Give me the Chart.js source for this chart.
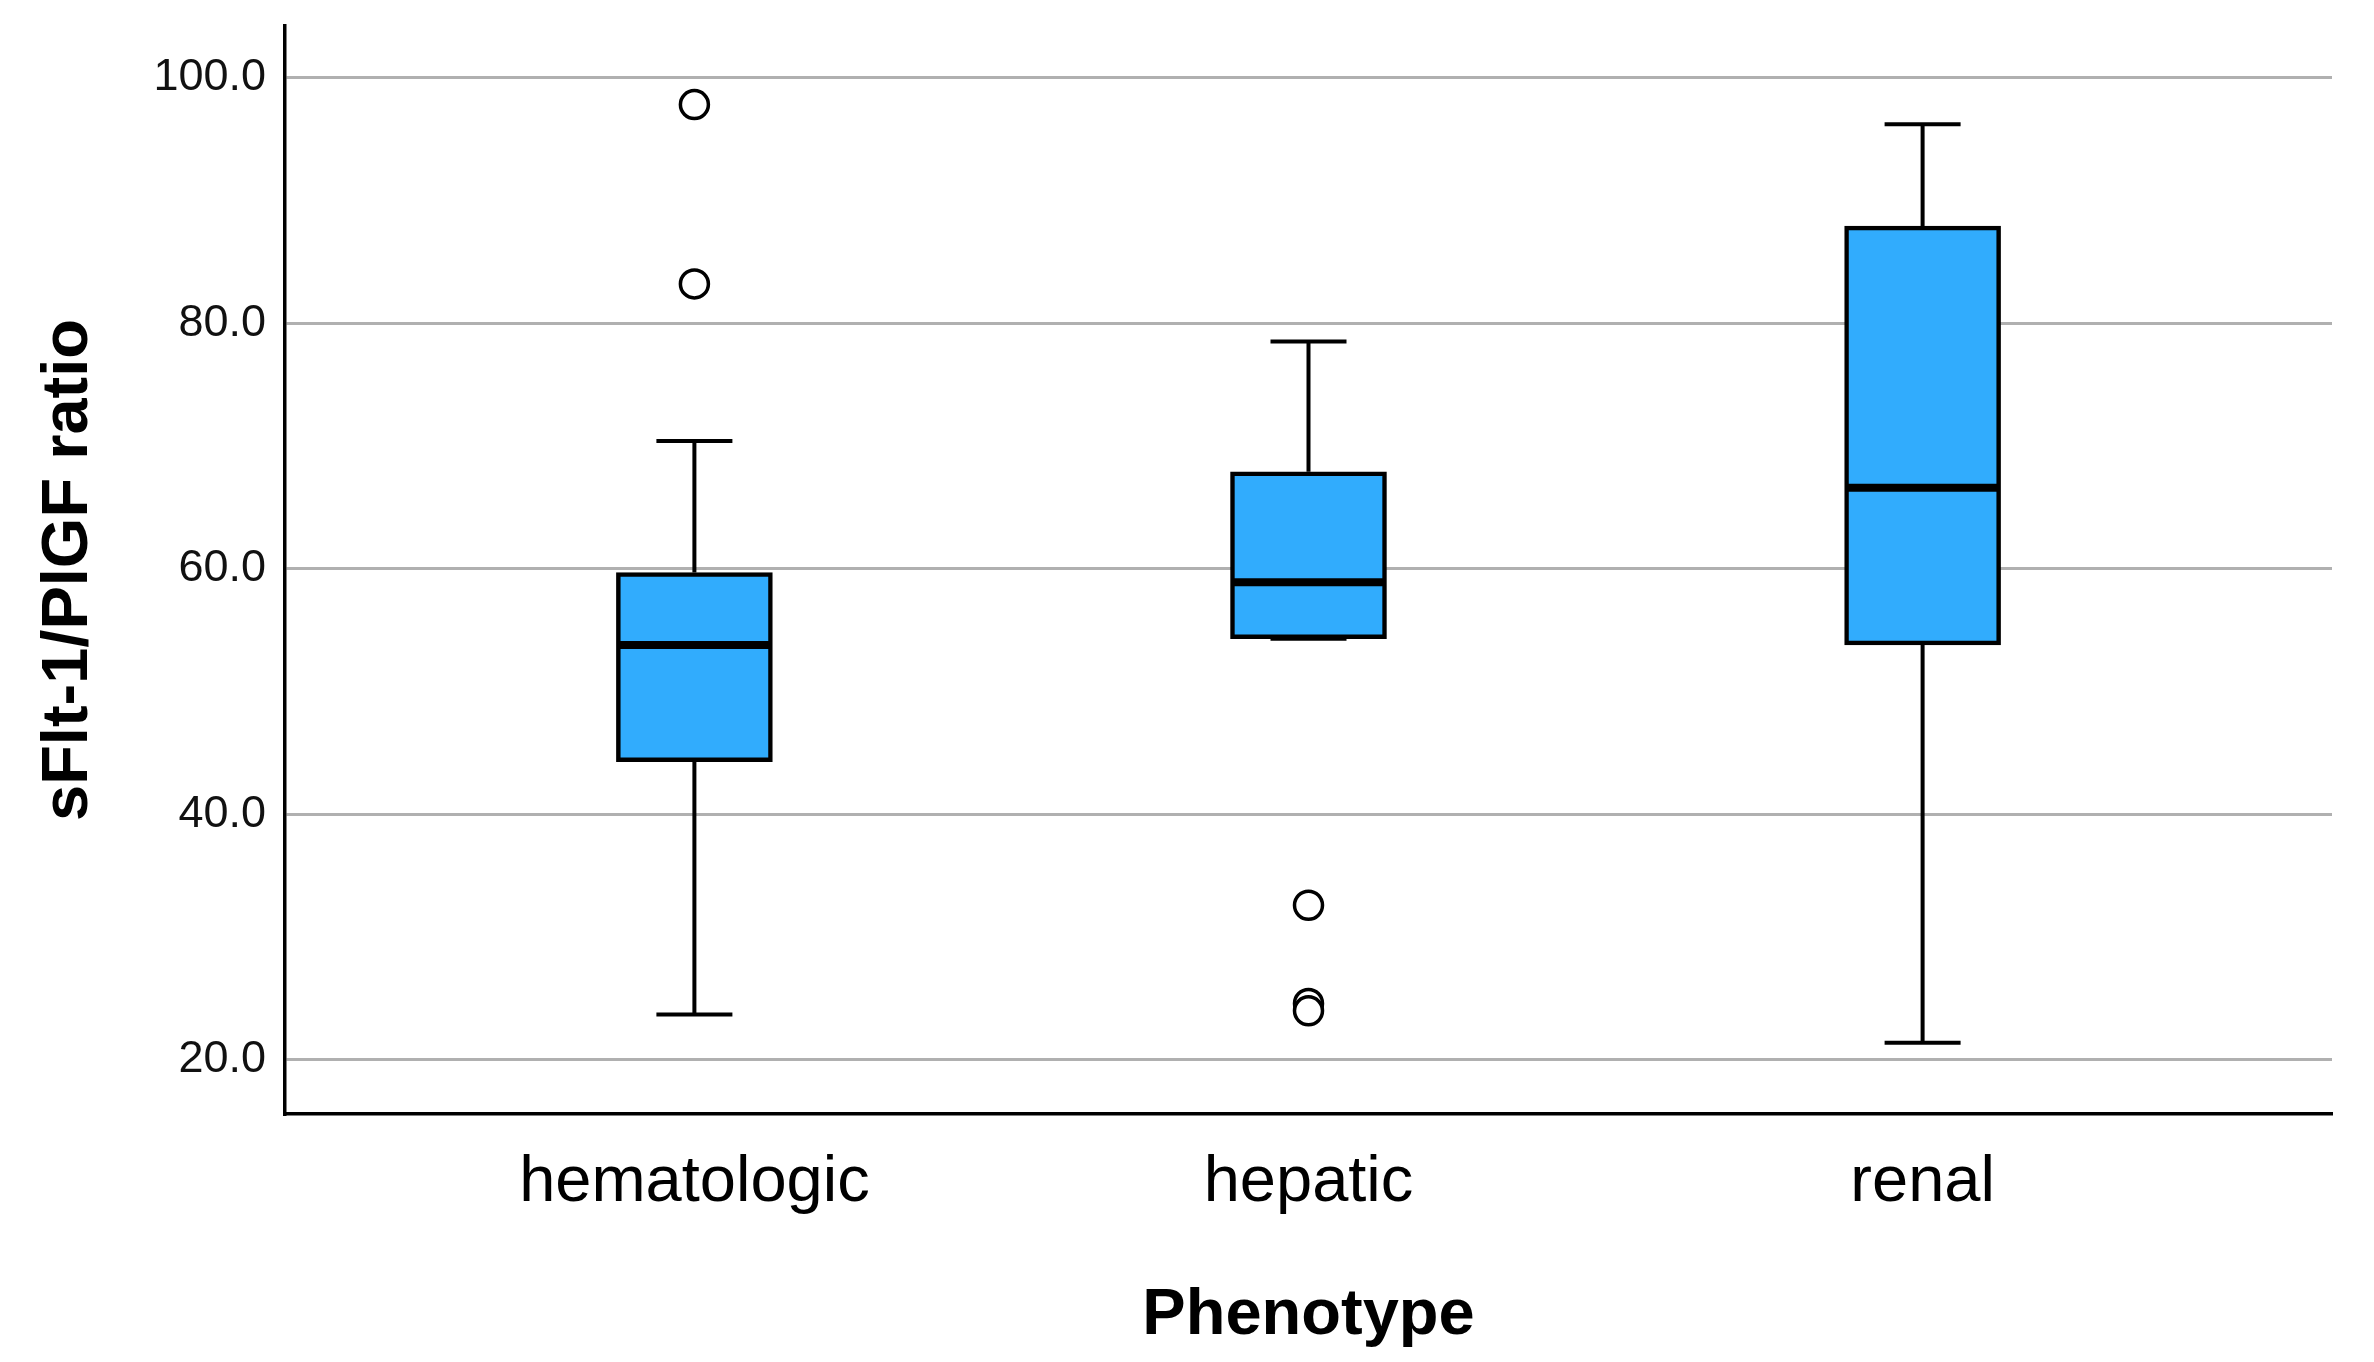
<!DOCTYPE html>
<html>
<head>
<meta charset="utf-8">
<title>sFlt-1/PlGF ratio by phenotype</title>
<script src="https://cdn.jsdelivr.net/npm/chart.js@4.4.0/dist/chart.umd.min.js"></script>
<style>
  html, body { margin: 0; padding: 0; background: #fff; }
  #wrap { width: 2374px; height: 1362px; position: relative; }
</style>
</head>
<body>
<div id="wrap"><canvas id="boxChart"></canvas></div>
<script>
'use strict';

/* --- Data --- */
const categories = ['hematologic', 'hepatic', 'renal'];
const whiskerLow = [23.7, 54.3, 21.4];
const q1 = [44.3, 54.3, 53.8];
const median = [53.8, 58.9, 66.6];
const q3 = [59.7, 67.9, 87.9];
const whiskerHigh = [70.4, 78.5, 96.2];
const outliers = [[97.8, 83.2], [32.6, 24.6, 24.0], []];
const yTicks = [20, 40, 60, 80, 100];

const FONT = "'Liberation Sans', Arial, sans-serif";
const BOX_BLUE = '#31acfd';

/* --- Build datasets from the arrays --- */
const xPos = categories.map((c, i) => i + 1);

const boxData = xPos.map((x, i) => ({ x: x, y: [q1[i], q3[i]] }));
const medianData = xPos.map((x, i) => ({ x: x, y: median[i] }));
const capData = [];
const whiskerData = [];
xPos.forEach((x, i) => {
  capData.push({ x: x, y: whiskerLow[i] }, { x: x, y: whiskerHigh[i] });
  whiskerData.push(
    { x: x, y: whiskerLow[i] }, { x: x, y: q1[i] }, { x: x, y: NaN },
    { x: x, y: q3[i] }, { x: x, y: whiskerHigh[i] }, { x: x, y: NaN }
  );
});
const outlierData = [];
outliers.forEach((vals, i) => vals.forEach(v => outlierData.push({ x: xPos[i], y: v })));

// drop the automatic label padding so the plot area follows layout.padding
function noAutoPadding(s) {
  s.paddingLeft = 0; s.paddingRight = 0; s.paddingTop = 0; s.paddingBottom = 0;
}

const ctx = document.getElementById('boxChart');
new Chart(ctx, {
  type: 'bar',
  data: {
    datasets: [
      {
        type: 'line', label: 'outliers', data: outlierData, showLine: false,
        pointStyle: 'circle', pointRadius: 14, pointBorderWidth: 3.5,
        pointBackgroundColor: '#fff', pointBorderColor: '#000', order: 0
      },
      {
        type: 'line', label: 'median', data: medianData, showLine: false,
        pointStyle: 'line', pointRadius: 76, pointBorderWidth: 8,
        pointBorderColor: '#000', order: 1
      },
      {
        label: 'box', data: boxData, backgroundColor: BOX_BLUE,
        borderColor: '#000', borderWidth: 4.5, borderSkipped: false,
        barThickness: 156, order: 2
      },
      {
        type: 'line', label: 'caps', data: capData, showLine: false,
        pointStyle: 'line', pointRadius: 38, pointBorderWidth: 4,
        pointBorderColor: '#000', order: 3
      },
      {
        type: 'line', label: 'whiskers', data: whiskerData, spanGaps: false,
        borderColor: '#000', borderWidth: 4, pointRadius: 0, order: 4
      }
    ]
  },
  options: {
    responsive: true, maintainAspectRatio: false, animation: false,
    events: [],
    layout: { autoPadding: false, padding: { top: 26, right: 42, bottom: 0, left: 0 } },
    plugins: { legend: { display: false }, tooltip: { enabled: false } },
    scales: {
      x: {
        type: 'linear', min: 1 / 3, max: 11 / 3, offset: false,
        afterBuildTicks: s => { s.ticks = xPos.map(v => ({ value: v })); },
        afterFit: s => { s.height = 248; noAutoPadding(s); },
        grid: { color: 'rgba(0,0,0,0)', drawTicks: false },
        border: { display: true, color: '#000', width: 3.5 },
        ticks: {
          padding: 30, color: '#000', maxRotation: 0,
          font: { family: FONT, size: 65 },
          callback: v => categories[v - 1]
        },
        title: {
          display: true, text: 'Phenotype', color: '#000',
          font: { family: FONT, size: 65, weight: 'bold' },
          padding: { top: 0, bottom: 7 }
        }
      },
      y: {
        type: 'linear', min: 15.6, max: 104.2,
        afterBuildTicks: s => { s.ticks = yTicks.map(v => ({ value: v })); },
        afterFit: s => { s.width = 285; noAutoPadding(s); },
        grid: { color: '#b0b0b0', lineWidth: 3, drawTicks: false },
        border: { display: true, color: '#000', width: 3.5 },
        ticks: {
          padding: 19, color: '#111',
          font: { family: FONT, size: 45 },
          callback: v => v.toFixed(1)
        },
        title: {
          display: true, text: 'sFlt-1/PlGF ratio', color: '#000',
          font: { family: FONT, size: 65, weight: 'bold' },
          padding: { top: 30, bottom: 0 }
        }
      }
    }
  }
});
</script>
</body>
</html>
